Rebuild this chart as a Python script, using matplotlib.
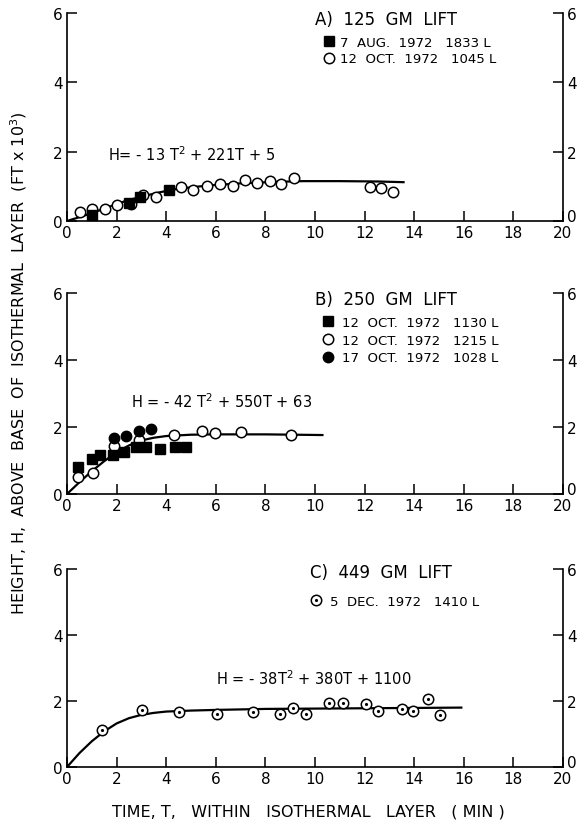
import matplotlib
matplotlib.use("Agg")
import matplotlib.pyplot as plt
from matplotlib.lines import Line2D

plt.rcParams['font.family'] = ['DejaVu Sans']

# ---- panel A : 125 gm lift ----
a_sq_t = [1.0, 2.5, 2.95, 4.1]
a_sq_h = [0.17, 0.52, 0.68, 0.88]
a_oc_t = [0.52, 1.02, 1.53, 2.03, 2.6, 3.08, 3.6, 4.59, 5.07, 5.64, 6.15, 6.68,
          7.16, 7.65, 8.19, 8.62, 9.17, 12.23, 12.66, 13.14]
a_oc_h = [0.27, 0.34, 0.34, 0.47, 0.5, 0.76, 0.7, 0.98, 0.9, 1.0, 1.07, 1.02,
          1.19, 1.10, 1.15, 1.07, 1.25, 0.98, 0.95, 0.85]
a_fit_t = [0, 0.5, 1.06, 1.7, 2.41, 3.1, 3.75, 4.4, 5.1, 5.8, 6.44, 7.1, 7.79, 8.5, 9.5, 11.0, 12.5, 13.57]
a_fit_h = [0, 0.11, 0.24, 0.41, 0.59, 0.72, 0.83, 0.92, 0.98, 1.03, 1.06, 1.09, 1.11, 1.13, 1.15, 1.15, 1.14, 1.12]

# ---- panel B : 250 gm lift ----
b_sq_t = [0.45, 1.0, 1.35, 1.85, 2.3, 2.8, 3.2, 3.75, 4.35, 4.8]
b_sq_h = [0.8, 1.05, 1.15, 1.15, 1.25, 1.4, 1.4, 1.35, 1.4, 1.4]
b_oc_t = [0.44, 1.04, 1.89, 2.9, 4.3, 5.43, 5.97, 7.01, 9.05]
b_oc_h = [0.51, 0.64, 1.44, 1.6, 1.77, 1.89, 1.82, 1.84, 1.77]
b_fc_t = [1.89, 2.38, 2.92, 3.39]
b_fc_h = [1.67, 1.72, 1.87, 1.95]
b_fit_t = [0, 0.5, 1.0, 1.5, 2.0, 2.5, 3.0, 3.5, 4.0, 5.0, 6.0, 8.0, 10.3]
b_fit_h = [0, 0.35, 0.68, 0.98, 1.25, 1.45, 1.6, 1.68, 1.73, 1.77, 1.78, 1.78, 1.76]

# ---- panel C : 449 gm lift ----
c_t = [1.4, 3.02, 4.53, 6.05, 7.49, 8.57, 9.11, 9.65, 10.57, 11.13, 12.05, 12.55,
       13.49, 13.96, 14.57, 15.04]
c_h = [1.13, 1.73, 1.67, 1.62, 1.67, 1.62, 1.8, 1.62, 1.93, 1.93, 1.91, 1.69,
       1.75, 1.69, 2.07, 1.59]
c_fit_t = [0, 0.5, 1.0, 1.5, 2.0, 2.5, 3.0, 3.5, 4.0, 5.0, 6.0, 8.0, 10.0, 12.0, 14.0, 15.9]
c_fit_h = [0, 0.42, 0.78, 1.08, 1.32, 1.48, 1.58, 1.64, 1.68, 1.71, 1.73, 1.76, 1.77, 1.78, 1.79, 1.8]

x_ticks = list(range(0, 21, 2))
y_ticks = [0, 2, 4, 6]

fig = plt.figure(figsize=(5.79, 8.29), dpi=100)
L, W = 67 / 579, 496 / 579
boxes = [(14, 222), (294, 495), (570, 768)]
axs = []
for top, bot in boxes:
    ax = fig.add_axes([L, 1 - bot / 829, W, (bot - top) / 829])
    axs.append(ax)

ms = 7.5
mew = 1.1
for ax in axs:
    ax.set_xlim(0, 20)
    ax.set_ylim(0, 6)
    ax.set_xticks(x_ticks)
    ax.set_yticks(y_ticks)
    ax.spines['top'].set_visible(False)
    for s in ['left', 'right', 'bottom']:
        ax.spines[s].set_linewidth(1.2)
    ax.tick_params(direction='in', length=7, width=1.1, right=True, labelright=True,
                   labelsize=11, pad=3)
    ax.tick_params(axis='y', pad=3)
    # right-hand 0 sits just above the "20" as in the original
    t0 = ax.yaxis.get_major_ticks()[0]
    t0.label2.set_va('baseline')

leg_kw = dict(loc='upper left', frameon=False, fontsize=9.5, borderpad=0,
              borderaxespad=0, handlelength=1.0)

# panel A
ax = axs[0]
ax.plot(a_fit_t, a_fit_h, color='black', lw=1.6)
ax.plot(a_oc_t, a_oc_h, 'o', ms=ms, mfc='white', mec='black', mew=mew)
ax.plot(a_sq_t, a_sq_h, 's', ms=ms, mfc='black', mec='black')
ax.text(0.5, 0.971, 'A)  125  GM  LIFT', transform=ax.transAxes, fontsize=12, va='center')
ax.text(1.67, 1.95, 'H= - 13 T$^2$ + 221T + 5', fontsize=10.5, va='center')
h = [Line2D([], [], ls='none', marker='s', ms=ms, mfc='black', mec='black'),
     Line2D([], [], ls='none', marker='o', ms=ms, mfc='white', mec='black', mew=mew)]
ax.legend(h, ['7  AUG.  1972   1833 L', '12  OCT.  1972   1045 L'],
          bbox_to_anchor=(0.514, 0.889), handletextpad=0.4, labelspacing=0.25, **leg_kw)

# panel B
ax = axs[1]
ax.plot(b_fit_t, b_fit_h, color='black', lw=1.6)
ax.plot(b_oc_t, b_oc_h, 'o', ms=ms, mfc='white', mec='black', mew=mew)
ax.plot(b_sq_t, b_sq_h, 's', ms=ms, mfc='black', mec='black')
ax.plot(b_fc_t, b_fc_h, 'o', ms=ms, mfc='black', mec='black')
ax.text(0.5, 0.97, 'B)  250  GM  LIFT', transform=ax.transAxes, fontsize=12, va='center')
ax.text(2.6, 2.8, 'H = - 42 T$^2$ + 550T + 63', fontsize=10.5, va='center')
h = [Line2D([], [], ls='none', marker='s', ms=ms, mfc='black', mec='black'),
     Line2D([], [], ls='none', marker='o', ms=ms, mfc='white', mec='black', mew=mew),
     Line2D([], [], ls='none', marker='o', ms=ms, mfc='black', mec='black')]
ax.legend(h, ['12  OCT.  1972   1130 L', '12  OCT.  1972   1215 L', '17  OCT.  1972   1028 L'],
          bbox_to_anchor=(0.512, 0.886), handletextpad=0.6, labelspacing=0.35, **leg_kw)

# panel C
ax = axs[2]
ax.plot(c_fit_t, c_fit_h, color='black', lw=1.6)
ax.plot(c_t, c_h, 'o', ms=ms, mfc='white', mec='black', mew=mew)
ax.plot(c_t, c_h, '.', ms=2.5, color='black')
ax.text(0.49, 0.985, 'C)  449  GM  LIFT', transform=ax.transAxes, fontsize=12, va='center')
ax.text(6.0, 2.7, 'H = - 38T$^2$ + 380T + 1100', fontsize=10.5, va='center')
h = [(Line2D([], [], ls='none', marker='o', ms=ms, mfc='white', mec='black', mew=mew),
      Line2D([], [], ls='none', marker='.', ms=2.5, color='black'))]
ax.legend(h, ['5  DEC.  1972   1410 L'], bbox_to_anchor=(0.488, 0.869),
          handletextpad=0.6, **leg_kw)

fig.text(0.032, 1 - 363 / 829,
         'HEIGHT, H,  ABOVE  BASE  OF  ISOTHERMAL  LAYER  (FT x 10$^3$)',
         rotation=90, ha='center', va='center', fontsize=11.5)
fig.text(308 / 579, 1 - 812 / 829, 'TIME, T,   WITHIN   ISOTHERMAL   LAYER   ( MIN )',
         ha='center', va='center', fontsize=11.5)

fig.savefig('out.png', dpi=100)
